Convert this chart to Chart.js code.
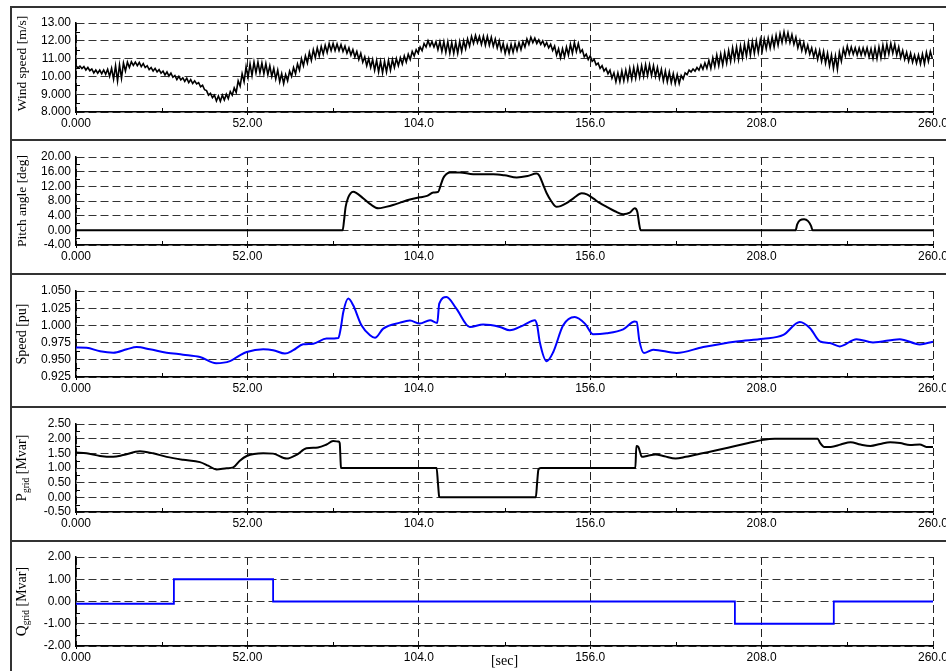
<!DOCTYPE html>
<html>
<head>
<meta charset="utf-8">
<title>Wind turbine response</title>
<script src="https://cdn.jsdelivr.net/npm/chart.js@4.4.1/dist/chart.umd.min.js"></script>
<style>
  body { margin:0; background:#fff; width:946px; height:671px; overflow:hidden; position:relative; }
  .panel { position:absolute; left:10px; width:1000px; border:2px solid #333; box-sizing:border-box; }
  canvas { position:absolute; left:0; }
</style>
</head>
<body>
<script>
//---------------------------------Data-------------------------------//
var xTickValues = [0, 52, 104, 156, 208, 260];
var xTickLabels = ['0.000', '52.00', '104.0', '156.0', '208.0', '260.0'];
var xMinor = [26, 78, 130, 182, 234];

// wind speed, one sample every 0.6 s
var windStep = 0.6;
var windValues = [
  10.6,10.48,10.58,10.44,10.55,10.36,10.5,10.32,10.42,10.2,
  10.36,10.18,10.35,10.15,10.36,10.12,10.4,10.0,10.45,9.85,
  10.6,9.75,10.65,9.9,10.75,10.3,10.8,10.5,10.82,10.62,
  10.8,10.6,10.78,10.55,10.72,10.5,10.6,10.38,10.5,10.3,
  10.45,10.25,10.38,10.18,10.3,10.08,10.25,10.02,10.18,9.95,
  10.05,9.82,10.0,9.8,9.92,9.72,9.9,9.65,9.82,9.6,
  9.75,9.58,9.65,9.42,9.5,9.25,9.2,8.95,9.05,8.8,
  8.95,8.62,8.9,8.6,8.95,8.68,9.0,8.75,9.15,8.95,
  9.35,9.1,9.75,9.45,10.15,9.7,10.55,9.95,10.7,10.05,
  10.8,10.2,10.8,10.2,10.75,10.15,10.72,10.1,10.6,10.0,
  10.45,9.85,10.35,9.7,10.15,9.6,10.1,9.75,10.3,10.0,
  10.5,10.15,10.7,10.35,11.0,10.6,11.15,10.75,11.35,10.9,
  11.5,11.05,11.6,11.15,11.68,11.25,11.75,11.35,11.85,11.45,
  11.85,11.45,11.82,11.45,11.78,11.4,11.7,11.3,11.6,11.2,
  11.5,11.1,11.4,10.95,11.3,10.8,11.1,10.6,11.0,10.5,
  10.95,10.35,10.9,10.25,10.85,10.2,10.85,10.25,10.9,10.35,
  10.95,10.5,11.0,10.6,11.05,10.7,11.15,10.8,11.25,10.95,
  11.4,11.15,11.5,11.3,11.65,11.45,11.85,11.65,12.0,11.7,
  11.95,11.65,11.95,11.5,11.95,11.4,11.95,11.35,11.95,11.3,
  11.9,11.3,11.9,11.3,11.95,11.4,12.0,11.55,12.1,11.7,
  12.25,11.85,12.3,11.9,12.25,11.8,12.25,11.75,12.25,11.75,
  12.2,11.7,12.1,11.6,12.0,11.45,11.85,11.3,11.75,11.3,
  11.8,11.35,11.85,11.45,11.9,11.5,11.95,11.65,12.1,11.8,
  12.2,11.9,12.15,11.85,12.05,11.8,12.0,11.7,11.9,11.6,
  11.8,11.45,11.7,11.2,11.55,11.05,11.55,11.1,11.65,11.2,
  11.8,11.3,11.9,11.4,11.85,11.35,11.5,11.1,11.25,10.95,
  11.15,10.85,10.95,10.65,10.75,10.45,10.6,10.3,10.45,10.15,
  10.35,9.9,10.2,9.7,10.2,9.7,10.3,9.75,10.35,9.8,
  10.45,9.85,10.5,9.9,10.55,9.95,10.6,10.0,10.65,10.05,
  10.65,10.05,10.6,10.0,10.5,9.9,10.4,9.75,10.3,9.7,
  10.25,9.65,10.15,9.6,10.1,9.6,10.05,9.85,10.2,10.1,
  10.35,10.25,10.42,10.3,10.5,10.35,10.65,10.4,10.75,10.45,
  10.9,10.45,11.05,10.55,11.2,10.6,11.25,10.65,11.35,10.75,
  11.45,10.85,11.6,10.95,11.65,10.95,11.7,11.05,11.8,11.15,
  11.9,11.2,11.95,11.3,12.0,11.35,12.05,11.45,12.1,11.55,
  12.15,11.6,12.2,11.65,12.3,11.75,12.4,11.9,12.5,11.95,
  12.45,11.9,12.35,11.8,12.2,11.6,12.0,11.45,11.9,11.35,
  11.75,11.25,11.6,11.1,11.5,10.95,11.45,10.85,11.4,10.75,
  11.3,10.6,11.2,10.45,11.15,10.4,11.35,10.85,11.55,11.15,
  11.7,11.25,11.65,11.25,11.6,11.2,11.6,11.2,11.6,11.2,
  11.6,11.1,11.55,11.0,11.6,11.0,11.65,11.05,11.75,11.15,
  11.8,11.25,11.85,11.3,11.8,11.2,11.65,11.05,11.45,10.95,
  11.35,10.85,11.3,10.8,11.2,10.75,11.2,10.7,11.25,10.7,
  11.35,10.85,11.4,11.0
];
var windTicks = [8, 9, 10, 11, 12, 13];
var windTickLabels = ['8.000', '9.000', '10.00', '11.00', '12.00', '13.00'];
var windMinor = [8.5, 9.5, 10.5, 11.5, 12.5];

// pitch angle
var pitchTime = [0, 80.9, 81.3, 81.8, 82.6, 83.3, 84.1, 85, 87.2, 89.5, 91.7, 94, 96.2, 98.8, 101.3, 104.3,
  106.5, 108.4, 109.9, 110.6, 111.4, 112.3, 113.4, 116.5, 120.5, 126.6, 130, 133.7, 137, 139.7, 140.5,
  141.7, 142.8, 144.3, 145.8, 147, 148.8, 151, 153.4, 155, 156.9, 159, 161, 163.5, 166, 168, 169.5,
  170.3, 170.9, 171.3, 218.3, 218.8, 219.7, 220.9, 222.1, 223, 223.5, 260];
var pitchValues = [0, 0, 2.5, 6.4, 9.0, 10.1, 10.5, 10.2, 8.7, 7.0, 6.0, 6.4, 6.9, 7.7, 8.4, 9.0,
  9.4, 10.3, 10.5, 12.2, 14.2, 15.3, 15.8, 15.8, 15.3, 15.3, 15.0, 14.4, 14.8, 15.5, 15.0,
  12.5, 10.1, 7.8, 6.4, 6.6, 7.4, 8.8, 10.1, 9.8, 8.7, 7.4, 6.4, 5.2, 4.4, 4.8, 6.0,
  5.0, 1.5, 0, 0, 1.6, 2.8, 3.0, 2.5, 1.2, 0, 0];
var pitchTicks = [-4, 0, 4, 8, 12, 16, 20];
var pitchTickLabels = ['-4.00', '0.00', '4.00', '8.00', '12.00', '16.00', '20.00'];
var pitchMinor = [-2, 2, 6, 10, 14, 18];

// rotor speed
var speedTime = [0, 3.2, 7.3, 11.3, 15.4, 18.4, 22.4, 27.5, 32.5, 37.6, 42.5, 46.7, 49.7, 51.8, 56.8,
  59.8, 63.4, 65.9, 68.9, 72, 76, 79.6, 80.3, 81.1, 82.6, 84.1, 86.6, 89.2, 90.7, 93.2, 98.3, 101.3,
  104.3, 107.4, 109.6, 110.2, 112.4, 115.4, 119.5, 123.5, 128.6, 131.6, 135.7, 139.2, 139.9, 140.7,
  142.8, 144.8, 147.8, 151.3, 154.4, 156.9, 161, 166, 169.5, 170.1, 170.9, 172.3, 175.1, 182.2,
  190.3, 200.4, 208.5, 214.6, 219.6, 222.7, 225.7, 228.7, 231.7, 236.8, 241.8, 249.9, 256, 260];
var speedValues = [0.968, 0.9675, 0.9624, 0.9604, 0.9653, 0.9686, 0.9653, 0.9604, 0.9575, 0.954,
  0.945, 0.948, 0.9566, 0.9614, 0.9653, 0.964, 0.959, 0.964, 0.9725, 0.9735, 0.9808, 0.9817, 0.9953,
  1.0195, 1.039, 1.0292, 1.0001, 0.9856, 0.982, 0.9953, 1.004, 1.007, 1.0026, 1.0074, 1.0035, 1.0317,
  1.0413, 1.0244, 0.9977, 1.0012, 0.9977, 0.9929, 1.0001, 1.0074, 1.0001, 0.9759, 0.948, 0.9614,
  1.0001, 1.0122, 1.0026, 0.987, 0.9885, 0.9943, 1.0055, 1.005, 0.9783, 0.96, 0.9647, 0.96,
  0.9686, 0.9767, 0.9806, 0.9863, 1.005, 0.9959, 0.9767, 0.9743, 0.9695, 0.98, 0.9753, 0.98, 0.9724, 0.9762];
var speedTicks = [0.925, 0.95, 0.975, 1.0, 1.025, 1.05];
var speedTickLabels = ['0.925', '0.950', '0.975', '1.000', '1.025', '1.050'];
var speedMinor = [0.9375, 0.9625, 0.9875, 1.0125, 1.0375];

// active power to grid
var pTime = [0, 3.2, 7.3, 11.3, 14.3, 19.4, 23.4, 27.5, 32.5, 37.6, 40.1, 42.6, 45.7, 47.7, 49.7, 51.8,
  56.8, 59.8, 63.9, 66.9, 69.9, 73.4, 76, 78, 79.6, 80.0, 80.4, 80.8, 109.4, 109.8, 110.2, 110.6,
  139.5, 139.9, 140.3, 141, 169.7, 170.0, 170.6, 171.7, 173.5, 175.8, 178.5, 181.9, 185, 190, 195,
  200, 204, 208, 212, 225, 225.8, 227, 229, 232, 235, 238, 241, 244, 247, 250, 253, 256, 258, 260];
var pValues = [1.53, 1.50, 1.41, 1.38, 1.44, 1.57, 1.50, 1.38, 1.28, 1.20, 1.08, 0.95, 0.99, 1.02, 1.25, 1.41,
  1.50, 1.49, 1.32, 1.45, 1.67, 1.70, 1.80, 1.92, 1.90, 1.85, 1.02, 1.0, 1.0, 0.5, 0.02, 0.0,
  0.0, 0.5, 0.95, 1.0, 1.0, 1.75, 1.72, 1.38, 1.42, 1.46, 1.40, 1.32, 1.38, 1.5, 1.62,
  1.75, 1.85, 1.95, 2.0, 2.0, 1.85, 1.72, 1.72, 1.80, 1.88, 1.80, 1.75, 1.82, 1.88, 1.85, 1.78, 1.80, 1.72, 1.72];
var pTicks = [-0.5, 0, 0.5, 1, 1.5, 2, 2.5];
var pTickLabels = ['-0.50', '0.00', '0.50', '1.00', '1.50', '2.00', '2.50'];
var pMinor = [-0.25, 0.25, 0.75, 1.25, 1.75, 2.25];

// reactive power to grid (step changes)
var qTime = [0, 29.7, 59.8, 199.9, 229.9, 260];
var qValues = [-0.1, 1.0, 0.0, -1.0, 0.0, 0.0];
var qTicks = [-2, -1, 0, 1, 2];
var qTickLabels = ['-2.00', '-1.00', '0.00', '1.00', '2.00'];
var qMinor = [-1.5, -0.5, 0.5, 1.5];

//---------------------------------Helpers-------------------------------//
function pairs(xs, ys) {
  return ys.map(function (v, i) { return { x: xs[i], y: v }; });
}

// minor tick marks + rotated axis title (with subscript)
var panelDecor = {
  id: 'panelDecor',
  afterDraw: function (chart, args, opts) {
    var ctx = chart.ctx, area = chart.chartArea;
    var xs = chart.scales.x, ys = chart.scales.y;
    ctx.save();
    ctx.strokeStyle = '#000';
    ctx.lineWidth = 1;
    ctx.beginPath();
    xMinor.forEach(function (v) {
      var px = Math.round(xs.getPixelForValue(v)) + 0.5;
      ctx.moveTo(px, area.bottom);
      ctx.lineTo(px, area.bottom - 4);
    });
    opts.yMinor.forEach(function (v) {
      var py = Math.round(ys.getPixelForValue(v)) + 0.5;
      ctx.moveTo(area.left, py);
      ctx.lineTo(area.left + 4, py);
    });
    ctx.stroke();

    var parts = opts.title;
    var total = 0;
    parts.forEach(function (p) {
      ctx.font = p.size + 'px "Liberation Serif"';
      p.w = ctx.measureText(p.text).width;
      total += p.w;
    });
    ctx.translate(opts.titleX, (area.top + area.bottom) / 2 + (opts.titleShift || 0));
    ctx.rotate(-Math.PI / 2);
    ctx.fillStyle = '#000';
    ctx.textBaseline = 'middle';
    ctx.textAlign = 'left';
    var x = -total / 2;
    parts.forEach(function (p) {
      ctx.font = p.size + 'px "Liberation Serif"';
      ctx.fillText(p.text, x, p.dy || 0);
      x += p.w;
    });
    ctx.restore();
  }
};

var tickFont = { family: '"Liberation Sans", Arial, sans-serif', size: 12 };

function makePanel(cfg) {
  var c = document.createElement('canvas');
  var h = cfg.plotBottom - cfg.plotTop + 16 + 30;
  c.width = 980;
  c.height = h;
  c.style.top = (cfg.plotTop - 16) + 'px';
  document.body.appendChild(c);

  new Chart(c, {
    type: 'line',
    data: {
      datasets: [{
        data: cfg.data,
        borderColor: cfg.color,
        borderWidth: cfg.width,
        pointRadius: 0,
        tension: 0,
        cubicInterpolationMode: cfg.smooth ? 'monotone' : 'default',
        stepped: cfg.stepped || false
      }]
    },
    options: {
      responsive: false,
      animation: false,
      events: [],
      layout: { padding: { top: 16, left: 0, right: 47, bottom: 0 } },
      plugins: {
        legend: { display: false },
        tooltip: { enabled: false },
        panelDecor: { yMinor: cfg.yMinor, title: cfg.title, titleX: 22, titleShift: cfg.titleShift }
      },
      scales: {
        x: {
          type: 'linear',
          min: 0,
          max: 260,
          afterBuildTicks: function (s) { s.ticks = xTickValues.map(function (v) { return { value: v }; }); },
          afterFit: function (s) { s.height = 30; },
          ticks: {
            font: tickFont,
            color: '#000',
            padding: 1,
            maxRotation: 0,
            autoSkip: false,
            callback: function (v, i) { return xTickLabels[i]; }
          },
          grid: { color: '#222', lineWidth: 1, tickLength: 3, tickColor: '#000', drawTicks: true },
          border: { display: true, color: '#000', width: 1.5, dash: [8, 4] },
          title: {
            display: !!cfg.xTitle,
            text: cfg.xTitle || '',
            font: { family: '"Liberation Serif", serif', size: 14 },
            color: '#000',
            padding: { top: 0, bottom: 6 }
          }
        },
        y: {
          type: 'linear',
          min: cfg.yTicks[0],
          max: cfg.yTicks[cfg.yTicks.length - 1],
          afterBuildTicks: function (s) { s.ticks = cfg.yTicks.map(function (v) { return { value: v }; }); },
          afterFit: function (s) { s.width = 76; },
          ticks: {
            font: tickFont,
            color: '#000',
            padding: 5,
            autoSkip: false,
            callback: function (v, i) { return cfg.yLabels[i]; }
          },
          grid: { color: '#333', lineWidth: 1, drawTicks: false },
          border: { display: true, color: '#000', width: 1.5, dash: [8, 4] }
        }
      }
    },
    plugins: [panelDecor]
  });
}

//---------------------------------Panels-------------------------------//
var borders = [7, 140, 274, 407, 541, 690];
for (var i = 0; i < borders.length - 1; i++) {
  var d = document.createElement('div');
  d.className = 'panel';
  d.style.top = (borders[i] - 1) + 'px';
  d.style.height = (borders[i + 1] - borders[i] + 2) + 'px';
  document.body.appendChild(d);
}

makePanel({
  plotTop: 23, plotBottom: 112,
  data: windValues.map(function (v, i) { return { x: i * windStep, y: v }; }),
  color: '#000', width: 1.6, smooth: false,
  yTicks: windTicks, yLabels: windTickLabels, yMinor: windMinor,
  title: [{ text: 'Wind speed [m/s]', size: 13.5 }], titleShift: -4
});

makePanel({
  plotTop: 157, plotBottom: 245,
  data: pairs(pitchTime, pitchValues),
  color: '#000', width: 2, smooth: true,
  yTicks: pitchTicks, yLabels: pitchTickLabels, yMinor: pitchMinor,
  title: [{ text: 'Pitch angle [deg]', size: 13.5 }]
});

makePanel({
  plotTop: 291, plotBottom: 377,
  data: pairs(speedTime, speedValues),
  color: '#0000ff', width: 2, smooth: true,
  yTicks: speedTicks, yLabels: speedTickLabels, yMinor: speedMinor,
  title: [{ text: 'Speed [pu]', size: 14 }]
});

makePanel({
  plotTop: 424, plotBottom: 512,
  data: pairs(pTime, pValues),
  color: '#000', width: 2, smooth: true,
  yTicks: pTicks, yLabels: pTickLabels, yMinor: pMinor,
  title: [{ text: 'P', size: 15 }, { text: 'grid', size: 9.5, dy: 4 }, { text: ' [Mvar]', size: 14 }]
});

makePanel({
  plotTop: 557, plotBottom: 646,
  data: pairs(qTime, qValues),
  color: '#0000ff', width: 1.8, smooth: false, stepped: true,
  yTicks: qTicks, yLabels: qTickLabels, yMinor: qMinor,
  title: [{ text: 'Q', size: 15 }, { text: 'grid', size: 9.5, dy: 4 }, { text: ' [Mvar]', size: 14 }],
  xTitle: '[sec]'
});
</script>
</body>
</html>
